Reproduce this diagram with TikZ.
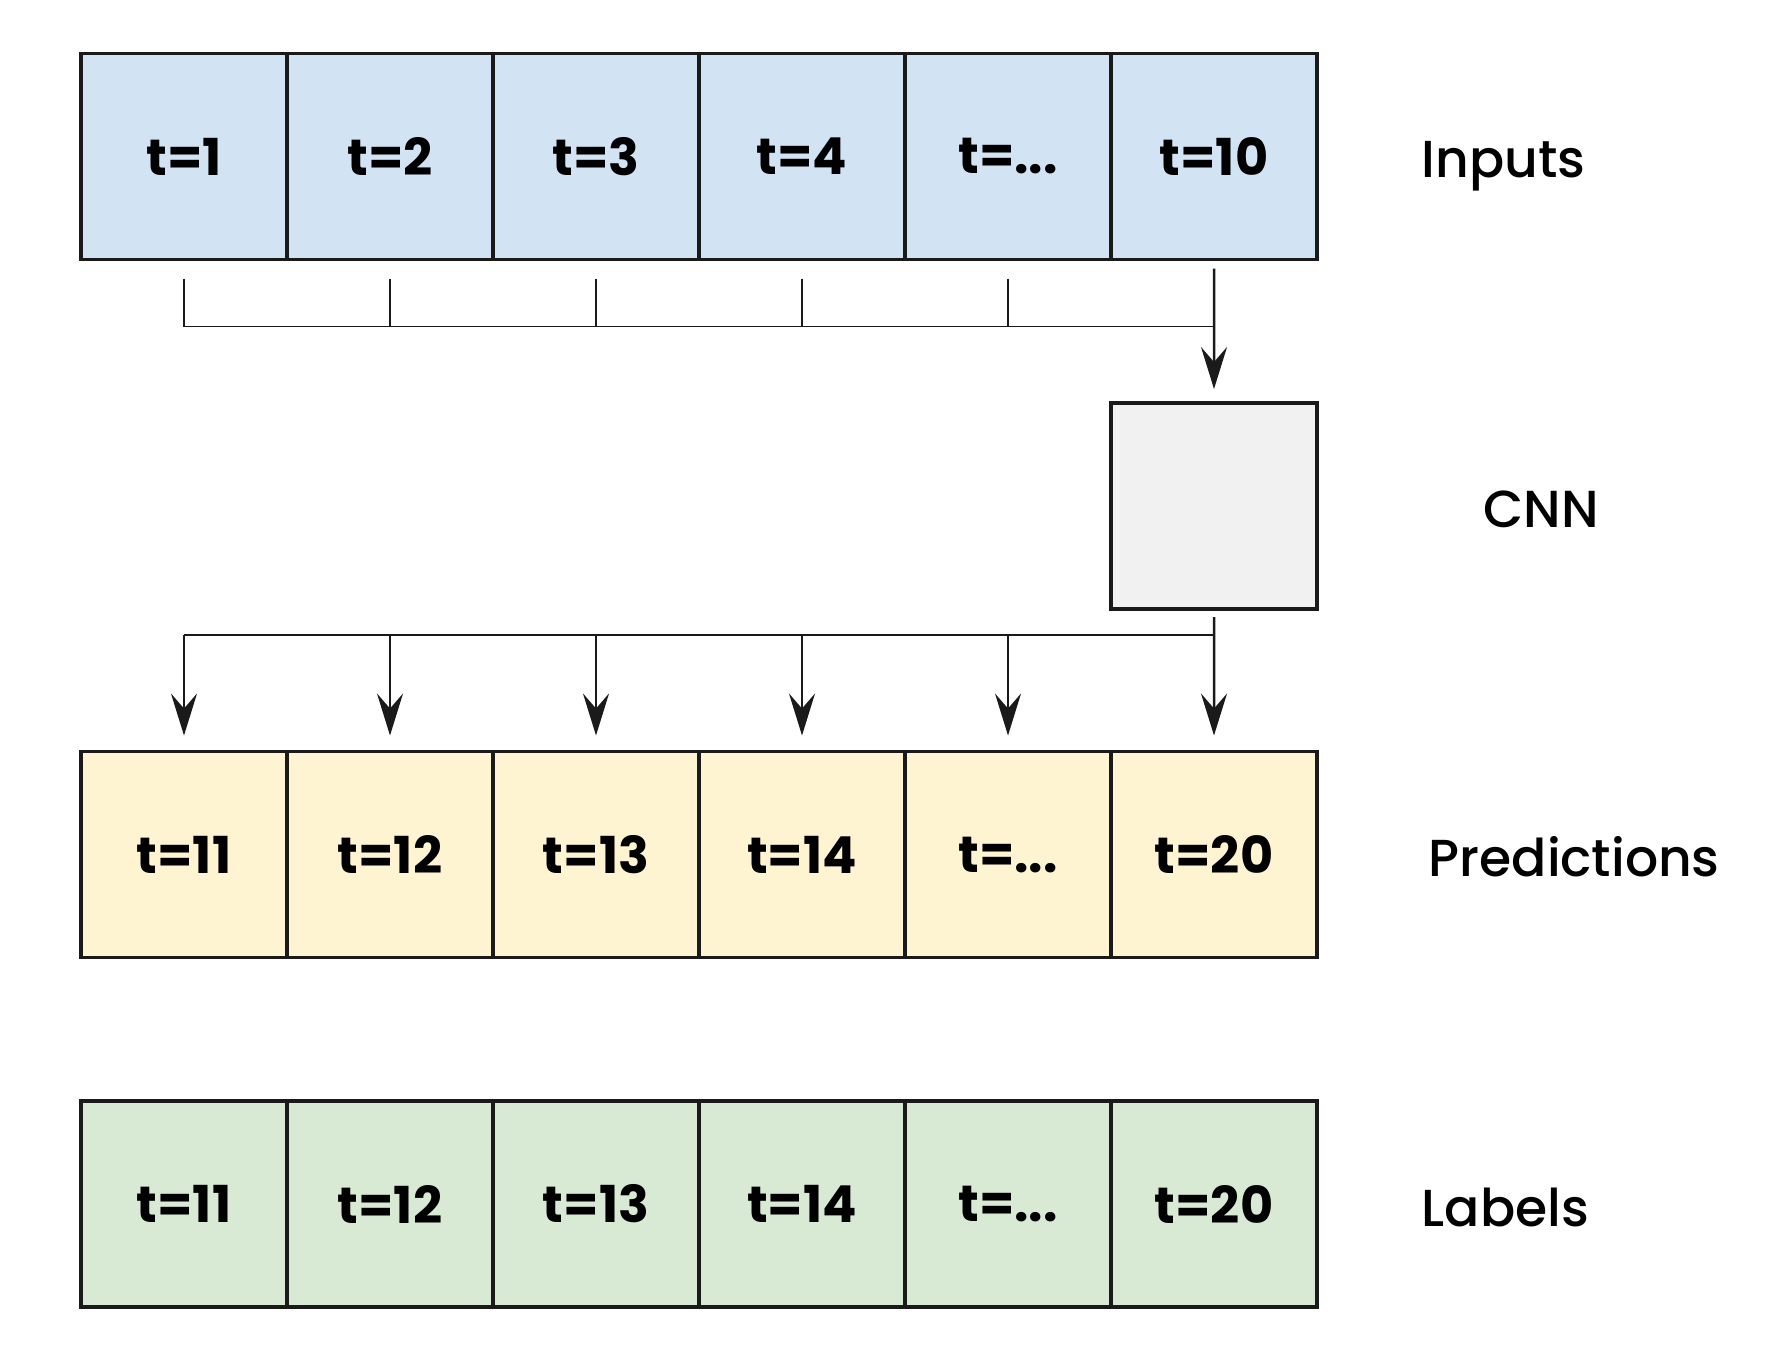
\documentclass[tikz,border=0pt]{standalone}
\usepackage{fontspec}
\setmainfont{Poppins}
\newfontfamily\namefont{Poppins}[UprightFont=* Medium]
\usepackage{tikz}
\usetikzlibrary{arrows.meta,positioning,calc}

\definecolor{inblue}{HTML}{D2E3F3}
\definecolor{predyellow}{HTML}{FEF4D1}
\definecolor{lblgreen}{HTML}{D9EAD4}
\definecolor{cnngray}{HTML}{F1F1F1}
\definecolor{ink}{HTML}{1A1A1A}

\begin{document}
\begin{tikzpicture}[
    cell/.style={draw=ink, line width=1.1pt, minimum size=2.06cm, inner sep=0pt, outer sep=0pt, font=\fontsize{14.5}{18}\selectfont\bfseries},
    cellin/.style={cell, fill=inblue},
    cellpred/.style={cell, fill=predyellow},
    celllbl/.style={cell, fill=lblgreen},
    rowname/.style={anchor=base west, inner sep=0pt, font=\namefont\fontsize{14.8}{18}\selectfont},
    link/.style={draw=ink, line width=0.45pt},
    arr/.style={link, line width=0.7pt, -{Stealth[length=4.2mm, width=2.6mm, inset=1.5mm]}}
  ]
    \useasboundingbox (0,0) rectangle (17.73,-13.50);

    % Inputs: t=1 ... t=10
    \node[cellin] (in1) at (1.84,-1.565) {t=1};
    \node[cellin, right=0pt of in1] (in2) {t=2};
    \node[cellin, right=0pt of in2] (in3) {t=3};
    \node[cellin, right=0pt of in3] (in4) {t=4};
    \node[cellin, right=0pt of in4] (in5) {t=...};
    \node[cellin, right=0pt of in5] (in6) {t=10};

    % CNN block under the last input
    \node[cell, fill=cnngray] (cnn) at (12.14,-5.06) {};

    % Predictions: t=11 ... t=20
    \node[cellpred] (pr1) at (1.84,-8.545) {t=11};
    \node[cellpred, right=0pt of pr1] (pr2) {t=12};
    \node[cellpred, right=0pt of pr2] (pr3) {t=13};
    \node[cellpred, right=0pt of pr3] (pr4) {t=14};
    \node[cellpred, right=0pt of pr4] (pr5) {t=...};
    \node[cellpred, right=0pt of pr5] (pr6) {t=20};

    % Labels: t=11 ... t=20
    \node[celllbl] (lb1) at (1.84,-12.04) {t=11};
    \node[celllbl, right=0pt of lb1] (lb2) {t=12};
    \node[celllbl, right=0pt of lb2] (lb3) {t=13};
    \node[celllbl, right=0pt of lb3] (lb4) {t=14};
    \node[celllbl, right=0pt of lb4] (lb5) {t=...};
    \node[celllbl, right=0pt of lb5] (lb6) {t=20};

    % row names
    \node[rowname] (nin) at (14.21,-1.775) {Inputs};
    \node[rowname] (ncnn) at (14.83,-5.27) {CNN};
    \node[rowname] (npr) at (14.28,-8.76) {Predictions};
    \node[rowname] (nlb) at (14.21,-12.26) {Labels};

    % gather inputs into the CNN
    \coordinate (busin) at ([yshift=-0.67cm]in6.south);
    \draw[link] ([yshift=-0.19cm]in1.south) |- (busin);
    \draw[link] ([yshift=-0.19cm]in2.south) -- ([yshift=-0.67cm]in2.south);
    \draw[link] ([yshift=-0.19cm]in3.south) -- ([yshift=-0.67cm]in3.south);
    \draw[link] ([yshift=-0.19cm]in4.south) -- ([yshift=-0.67cm]in4.south);
    \draw[link] ([yshift=-0.19cm]in5.south) -- ([yshift=-0.67cm]in5.south);
    \draw[arr] ([yshift=-0.09cm]in6.south) -- ([yshift=0.14cm]cnn.north);

    % spread the CNN output over the predictions
    \coordinate (busout) at ([yshift=-0.26cm]cnn.south);
    \draw[link] (busout -| pr1.north) -- (busout);
    \draw[arr] ([yshift=-0.08cm]cnn.south) -- ([yshift=0.16cm]pr6.north);
    \draw[arr] (busout -| pr1.north) -- ([yshift=0.16cm]pr1.north);
    \draw[arr] (busout -| pr2.north) -- ([yshift=0.16cm]pr2.north);
    \draw[arr] (busout -| pr3.north) -- ([yshift=0.16cm]pr3.north);
    \draw[arr] (busout -| pr4.north) -- ([yshift=0.16cm]pr4.north);
    \draw[arr] (busout -| pr5.north) -- ([yshift=0.16cm]pr5.north);
\end{tikzpicture}
\end{document}
